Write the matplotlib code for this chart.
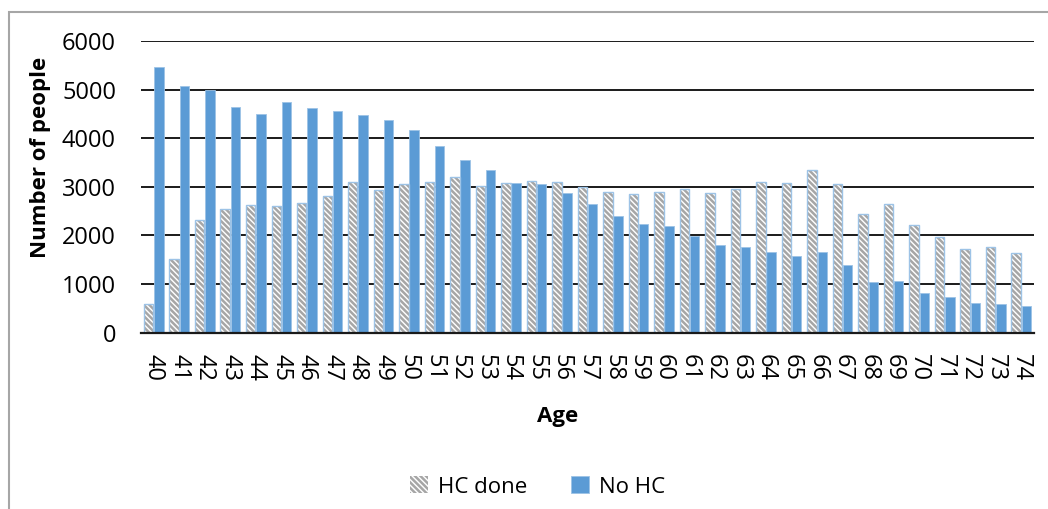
import numpy as np
import matplotlib.pyplot as plt
from matplotlib.patches import Rectangle

plt.rcParams['font.family'] = ['Open Sans', 'DejaVu Sans']
plt.rcParams['hatch.linewidth'] = 1.8

ages = list(range(40, 75))
hc_done = [590, 1520, 2310, 2550, 2620, 2600, 2665, 2820, 3095, 2930,
           3055, 3110, 3205, 3015, 3070, 3120, 3100, 3005, 2890, 2850,
           2885, 2960, 2875, 2960, 3100, 3070, 3345, 3055, 2440, 2645,
           2210, 1965, 1715, 1760, 1635]
no_hc = [5460, 5080, 5000, 4650, 4500, 4750, 4620, 4565, 4485, 4375,
         4175, 3840, 3555, 3350, 3070, 3060, 2870, 2655, 2405, 2230,
         2190, 1985, 1805, 1760, 1650, 1575, 1660, 1395, 1045, 1070,
         820, 735, 610, 590, 545]

blue = '#5b9bd5'
stripes = '\\' * 6

fig = plt.figure(figsize=(10.48, 5.09), dpi=100)
ax = fig.add_axes([141 / 1048, 1 - 332.7 / 509, 893 / 1048, 291.7 / 509])

x = np.arange(len(ages))
w = 0.37
# hatched bars: gray stripes on white, thin blue outline drawn on top
ax.bar(x - 0.2, hc_done, w, color='white', edgecolor='#a6a6a6',
       hatch=stripes, linewidth=0, zorder=3)
ax.bar(x - 0.2, hc_done, w, fill=False, edgecolor='#9dc3e6',
       linewidth=1.0, zorder=4)
ax.bar(x + 0.2, no_hc, w, color=blue, edgecolor='#9dc3e6',
       linewidth=0.6, zorder=3)

ax.set_xlim(-0.5, len(ages) - 0.5)
ax.set_ylim(0, 6000)
ax.set_yticks(range(0, 6001, 1000))
ax.set_xticks(x)
ax.set_xticklabels([str(a) for a in ages], rotation=-90)
ax.tick_params(axis='both', length=0, labelsize=17, colors='black')
ax.tick_params(axis='y', pad=18)
ax.tick_params(axis='x', pad=15)
ax.yaxis.grid(True, color='#1a1a1a', linewidth=1.4, zorder=0)
ax.set_axisbelow(True)
for s in ['top', 'right', 'left']:
    ax.spines[s].set_visible(False)
ax.spines['bottom'].set_linewidth(1.6)
ax.spines['bottom'].set_color('#1a1a1a')
ax.spines['bottom'].set_zorder(5)

ax.set_ylabel('Number of people', fontsize=16, fontweight='bold')
ax.yaxis.set_label_coords(-0.101, 0.6)
ax.set_xlabel('Age', fontsize=16, fontweight='bold')
ax.xaxis.set_label_coords(0.466, -0.25)

handles = [Rectangle((0, 0), 1, 1, facecolor='white', edgecolor='#a6a6a6',
                     hatch=stripes, linewidth=0),
           Rectangle((0, 0), 1, 1, facecolor=blue, edgecolor='#9dc3e6',
                     linewidth=0.6)]
fig.legend(handles, ['HC done', 'No HC'], loc='center',
           bbox_to_anchor=(0.513, 1 - 487 / 509), ncol=2, frameon=False,
           fontsize=16, handlelength=0.8, handleheight=0.8,
           handletextpad=0.45, columnspacing=2.0)

# outer chart frame
fig.patches.append(Rectangle((9 / 1048, -0.01), 1.0, 1 - 12 / 509 + 0.01,
                             transform=fig.transFigure, fill=False,
                             edgecolor='#a6a6a6', linewidth=1.5))

fig.savefig('out.png', dpi=100)
